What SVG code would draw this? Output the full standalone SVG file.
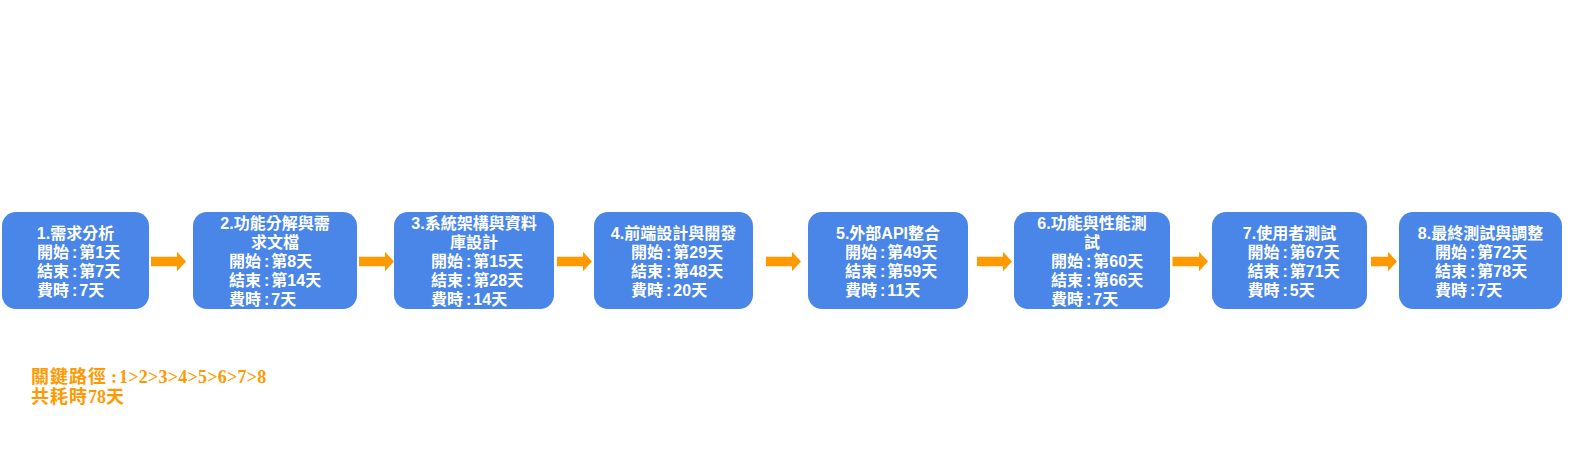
<svg xmlns="http://www.w3.org/2000/svg" width="1570" height="470" viewBox="0 0 1570 470">
<style>
.box{fill:#4A86E8;}
.t{font-family:"Liberation Sans","Noto Sans CJK TC",sans-serif;font-weight:bold;font-size:16px;fill:#FFFFFF;}
.mid{text-anchor:middle;}
.arr{fill:#FF9900;}
.crit{font-family:"Liberation Serif","Noto Sans CJK TC",serif;font-weight:bold;font-size:18px;fill:#FF9900;}
.ls{letter-spacing:1px;}
.ld{letter-spacing:0.25px;}
</style>
<rect width="1570" height="470" fill="#FFFFFF"/>
<g id="connectors">
<path class="arr" d="M151,256.75H177V251.75L186,261.5L177,271.25V266.25H151Z"/>
<path class="arr" d="M359,256.75H385V251.75L394,261.5L385,271.25V266.25H359Z"/>
<path class="arr" d="M557,256.75H583V251.75L592,261.5L583,271.25V266.25H557Z"/>
<path class="arr" d="M766,256.75H792V251.75L801,261.5L792,271.25V266.25H766Z"/>
<path class="arr" d="M977,256.75H1003V251.75L1012,261.5L1003,271.25V266.25H977Z"/>
<path class="arr" d="M1172.5,256.75H1199V251.75L1208,261.5L1199,271.25V266.25H1172.5Z"/>
<path class="arr" d="M1371,256.75H1388V251.75L1397,261.5L1388,271.25V266.25H1371Z"/>
</g>
<g id="node1">
<rect class="box" x="2" y="212" width="147" height="97" rx="14"/>
<text class="t mid" x="75.5" y="239">1.需求分析</text>
<text class="t" x="37" y="258">開始<tspan dx="3">:</tspan><tspan dx="2">第1天</tspan></text>
<text class="t" x="37" y="277">結束<tspan dx="3">:</tspan><tspan dx="2">第7天</tspan></text>
<text class="t" x="37" y="296">費時<tspan dx="3">:</tspan><tspan dx="2">7天</tspan></text>
</g>
<g id="node2">
<rect class="box" x="193" y="212" width="164" height="97" rx="14"/>
<text class="t mid" x="275" y="229">2.功能分解與需</text>
<text class="t mid" x="275" y="248">求文檔</text>
<text class="t" x="229" y="267">開始<tspan dx="3">:</tspan><tspan dx="2">第8天</tspan></text>
<text class="t" x="229" y="286">結束<tspan dx="3">:</tspan><tspan dx="2">第14天</tspan></text>
<text class="t" x="229" y="305">費時<tspan dx="3">:</tspan><tspan dx="2">7天</tspan></text>
</g>
<g id="node3">
<rect class="box" x="394" y="212" width="160" height="97" rx="14"/>
<text class="t mid" x="474" y="229">3.系統架構與資料</text>
<text class="t mid" x="474" y="248">庫設計</text>
<text class="t" x="431" y="267">開始<tspan dx="3">:</tspan><tspan dx="2">第15天</tspan></text>
<text class="t" x="431" y="286">結束<tspan dx="3">:</tspan><tspan dx="2">第28天</tspan></text>
<text class="t" x="431" y="305">費時<tspan dx="3">:</tspan><tspan dx="2">14天</tspan></text>
</g>
<g id="node4">
<rect class="box" x="594" y="212" width="159" height="97" rx="14"/>
<text class="t mid" x="673.5" y="239">4.前端設計與開發</text>
<text class="t" x="631" y="258">開始<tspan dx="3">:</tspan><tspan dx="2">第29天</tspan></text>
<text class="t" x="631" y="277">結束<tspan dx="3">:</tspan><tspan dx="2">第48天</tspan></text>
<text class="t" x="631" y="296">費時<tspan dx="3">:</tspan><tspan dx="2">20天</tspan></text>
</g>
<g id="node5">
<rect class="box" x="808" y="212" width="160" height="97" rx="14"/>
<text class="t mid" x="888" y="239">5.外部API整合</text>
<text class="t" x="845" y="258">開始<tspan dx="3">:</tspan><tspan dx="2">第49天</tspan></text>
<text class="t" x="845" y="277">結束<tspan dx="3">:</tspan><tspan dx="2">第59天</tspan></text>
<text class="t" x="845" y="296">費時<tspan dx="3">:</tspan><tspan dx="2">11天</tspan></text>
</g>
<g id="node6">
<rect class="box" x="1014" y="212" width="156" height="97" rx="14"/>
<text class="t mid" x="1092" y="229">6.功能與性能測</text>
<text class="t mid" x="1092" y="248">試</text>
<text class="t" x="1051" y="267">開始<tspan dx="3">:</tspan><tspan dx="2">第60天</tspan></text>
<text class="t" x="1051" y="286">結束<tspan dx="3">:</tspan><tspan dx="2">第66天</tspan></text>
<text class="t" x="1051" y="305">費時<tspan dx="3">:</tspan><tspan dx="2">7天</tspan></text>
</g>
<g id="node7">
<rect class="box" x="1212" y="212" width="155" height="97" rx="14"/>
<text class="t mid" x="1289.5" y="239">7.使用者測試</text>
<text class="t" x="1247.5" y="258">開始<tspan dx="3">:</tspan><tspan dx="2">第67天</tspan></text>
<text class="t" x="1247.5" y="277">結束<tspan dx="3">:</tspan><tspan dx="2">第71天</tspan></text>
<text class="t" x="1247.5" y="296">費時<tspan dx="3">:</tspan><tspan dx="2">5天</tspan></text>
</g>
<g id="node8">
<rect class="box" x="1399" y="212" width="163" height="97" rx="14"/>
<text class="t mid" x="1480.5" y="239">8.最終測試與調整</text>
<text class="t" x="1435" y="258">開始<tspan dx="3">:</tspan><tspan dx="2">第72天</tspan></text>
<text class="t" x="1435" y="277">結束<tspan dx="3">:</tspan><tspan dx="2">第78天</tspan></text>
<text class="t" x="1435" y="296">費時<tspan dx="3">:</tspan><tspan dx="2">7天</tspan></text>
</g>
<g id="critical-path">
<text class="crit" x="31" y="383"><tspan class="ls">關鍵路徑</tspan><tspan x="111">:</tspan><tspan x="119" class="ld">1&gt;2&gt;3&gt;4&gt;5&gt;6&gt;7&gt;8</tspan></text>
<text class="crit" x="31" y="402.5"><tspan class="ls">共耗時</tspan>78天</text>
</g>
</svg>
